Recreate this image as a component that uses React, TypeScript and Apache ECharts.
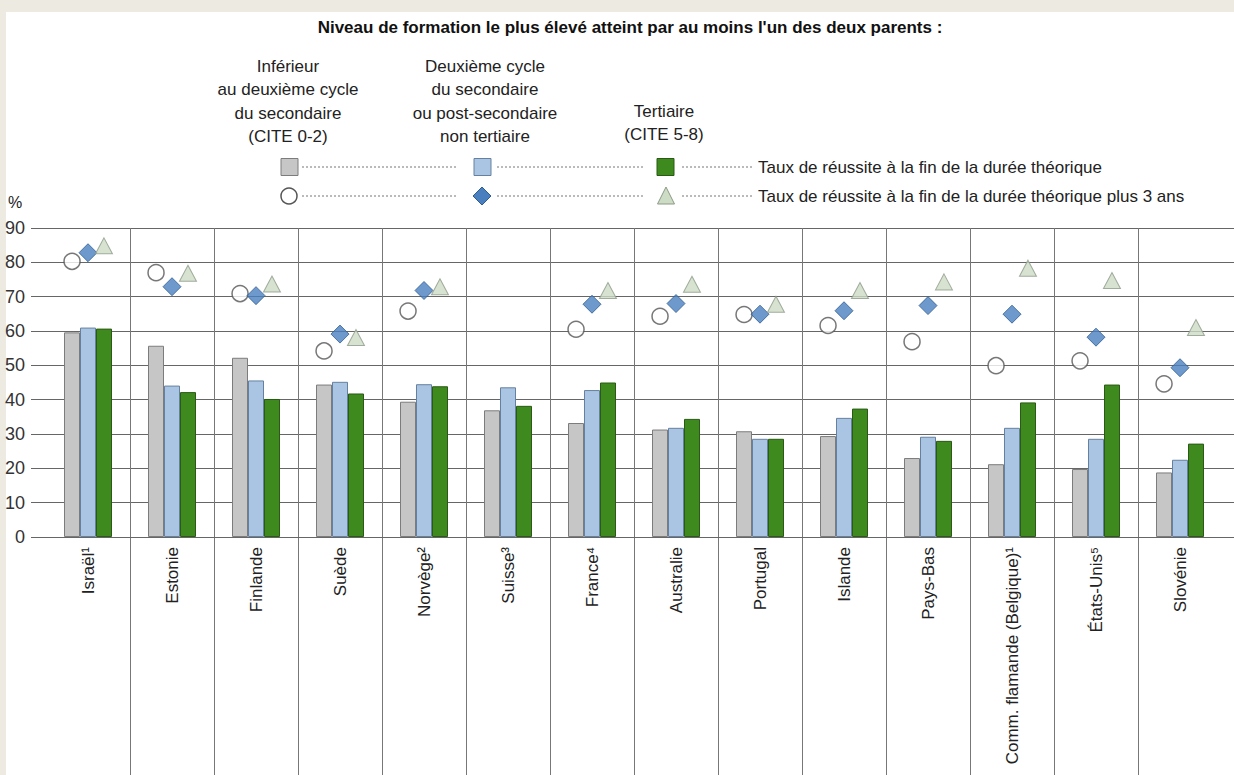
import React, { useEffect, useRef } from "react";
import * as echarts from "echarts";

const categories = [
  "Israël¹", "Estonie", "Finlande", "Suède", "Norvège²", "Suisse³", "France⁴",
  "Australie", "Portugal", "Islande", "Pays-Bas", "Comm. flamande (Belgique)¹",
  "États-Unis⁵", "Slovénie",
];
// Bars: completion rate at end of theoretical duration
const barLow = [59.6, 55.7, 52.2, 44.4, 39.4, 36.9, 33.2, 31.3, 30.8, 29.4, 23.0, 21.2, 19.8, 18.8];
const barMid = [61.0, 44.1, 45.6, 45.2, 44.5, 43.6, 42.8, 31.8, 28.6, 34.7, 29.2, 31.8, 28.6, 22.5];
const barHigh = [60.7, 42.2, 40.2, 41.8, 43.9, 38.2, 45.0, 34.4, 28.6, 37.4, 28.0, 39.2, 44.4, 27.2];
// Markers: completion rate at end of theoretical duration plus 3 years
const ptLow = [80.3, 77.0, 70.9, 54.2, 65.8, null, 60.5, 64.3, 64.8, 61.6, 56.9, 49.9, 51.3, 44.6];
const ptMid = [82.8, 72.9, 70.3, 59.1, 71.8, null, 67.8, 68.0, 64.9, 65.9, 67.4, 64.9, 58.2, 49.3];
const ptHigh = [84.8, 76.8, 73.7, 58.1, 72.9, null, 71.8, 73.6, 67.8, 71.8, 74.3, 78.3, 74.7, 61.0];
const yTicks = { min: 0, max: 90, interval: 10 };

const titleText = "Niveau de formation le plus élevé atteint par au moins l'un des deux parents :";
const header1 = "Inférieur\nau deuxième cycle\ndu secondaire\n(CITE 0-2)";
const header2 = "Deuxième cycle\ndu secondaire\nou post-secondaire\nnon tertiaire";
const header3 = "Tertiaire\n(CITE 5-8)";
const legendRow1 = "Taux de réussite à la fin de la durée théorique";
const legendRow2 = "Taux de réussite à la fin de la durée théorique plus 3 ans";

const FONT = "'Liberation Sans', Arial, sans-serif";
const C_GRAY = "#c6c6c6";
const C_BLUE = "#a9c5e3";
const C_GREEN = "#3f8a1f";
const C_DIAMOND = "#4a7fbf";
const C_TRI = "#cddcc4";
const GRID_C = "#666666";
const OFF = 0.19;

function points(vals: (number | null)[], off: number) {
  return vals.map((v, i) => (v == null ? null : [i + 0.5 + off, v]));
}

export default function App() {
  const ref = useRef<HTMLDivElement>(null);
  useEffect(() => {
    document.body.style.margin = "0";
    const chart = echarts.init(ref.current!, null, { renderer: "svg" });
    const dotted = (x1: number, x2: number, y: number) => ({
      type: "line",
      shape: { x1, y1: y, x2, y2: y },
      style: { stroke: "#777", lineWidth: 1, lineDash: [2, 2] },
    });
    const txt = (x: number, y: number, text: string, extra: any = {}) => ({
      type: "text",
      x,
      y,
      style: { text, fontFamily: FONT, fontSize: 17, fill: "#222", ...extra },
    });
    const sepLine = {
      show: true,
      interval: 0,
      showMinLine: false,
      showMaxLine: false,
      lineStyle: { color: "#777", width: 1 },
    };
    const option: any = {
      animation: false,
      backgroundColor: "#ffffff",
      textStyle: { fontFamily: FONT },
      grid: [
        { left: 46, right: 12, top: 228, bottom: 238 },
        { left: 46, right: 12, top: 537, bottom: 0 },
      ],
      xAxis: [
        {
          type: "category",
          gridIndex: 0,
          data: categories,
          boundaryGap: true,
          axisLine: { show: true, lineStyle: { color: GRID_C, width: 1 } },
          axisTick: { show: false },
          axisLabel: {
            interval: 0,
            rotate: 90,
            margin: 10,
            fontSize: 17,
            color: "#222",
            fontFamily: FONT,
          },
          splitLine: sepLine,
        },
        { type: "value", gridIndex: 0, min: 0, max: categories.length, show: false },
        {
          type: "category",
          gridIndex: 1,
          data: categories,
          boundaryGap: true,
          axisLine: { show: false },
          axisTick: { show: false },
          axisLabel: { show: false },
          splitLine: sepLine,
        },
      ],
      yAxis: [
        {
          type: "value",
          gridIndex: 0,
          ...yTicks,
          axisLine: { show: false },
          axisTick: { show: true, length: 15, lineStyle: { color: GRID_C, width: 1 } },
          axisLabel: { fontSize: 18, color: "#333", margin: 21, fontFamily: FONT },
          splitLine: { show: true, lineStyle: { color: GRID_C, width: 1 } },
        },
        {
          type: "value",
          gridIndex: 0,
          position: "right",
          ...yTicks,
          axisLine: { show: false },
          axisTick: { show: true, length: 12, lineStyle: { color: GRID_C, width: 1 } },
          axisLabel: { show: false },
          splitLine: { show: false },
        },
        { type: "value", gridIndex: 1, show: false, min: 0, max: 1 },
      ],
      series: [
        {
          type: "bar",
          xAxisIndex: 0,
          yAxisIndex: 0,
          data: barLow,
          barWidth: 16,
          barGap: "0%",
          itemStyle: { color: C_GRAY, borderColor: "#7c7c7c", borderWidth: 1 },
        },
        {
          type: "bar",
          xAxisIndex: 0,
          yAxisIndex: 0,
          data: barMid,
          barWidth: 16,
          barGap: "0%",
          itemStyle: { color: C_BLUE, borderColor: "#66819f", borderWidth: 1 },
        },
        {
          type: "bar",
          xAxisIndex: 0,
          yAxisIndex: 0,
          data: barHigh,
          barWidth: 16,
          barGap: "0%",
          itemStyle: { color: C_GREEN, borderColor: "#2a5a15", borderWidth: 1 },
        },
        {
          type: "scatter",
          xAxisIndex: 1,
          yAxisIndex: 0,
          data: points(ptLow, -OFF),
          symbol: "circle",
          symbolSize: 16,
          itemStyle: { color: "#ffffff", borderColor: "#555", borderWidth: 1.5 },
          z: 5,
        },
        {
          type: "scatter",
          xAxisIndex: 1,
          yAxisIndex: 0,
          data: points(ptMid, 0),
          symbol: "diamond",
          symbolSize: [18, 18],
          itemStyle: { color: C_DIAMOND, borderColor: "#2f5d92", borderWidth: 1 },
          z: 5,
        },
        {
          type: "scatter",
          xAxisIndex: 1,
          yAxisIndex: 0,
          data: points(ptHigh, OFF),
          symbol: "triangle",
          symbolSize: [17, 16],
          itemStyle: { color: C_TRI, borderColor: "#8c9a88", borderWidth: 1 },
          z: 5,
        },
      ],
      graphic: [
        { type: "rect", shape: { x: 0, y: 0, width: 1234, height: 12 }, style: { fill: "#ECEAE1" }, silent: true },
        { type: "rect", shape: { x: 0, y: 0, width: 6, height: 775 }, style: { fill: "#ECEAE1" }, silent: true },
        txt(630, 27, titleText, { fontWeight: "bold", fontSize: 17, align: "center", verticalAlign: "middle", fill: "#111" }),
        txt(288, 54.5, header1, { align: "center", verticalAlign: "top", lineHeight: 23.5 }),
        txt(485, 54.5, header2, { align: "center", verticalAlign: "top", lineHeight: 23.5 }),
        txt(664, 99.5, header3, { align: "center", verticalAlign: "top", lineHeight: 23.5 }),
        { type: "rect", shape: { x: 281, y: 158.5, width: 17, height: 17 }, style: { fill: C_GRAY, stroke: "#7c7c7c", lineWidth: 1 } },
        dotted(302, 457, 167),
        { type: "rect", shape: { x: 474, y: 158.5, width: 17, height: 17 }, style: { fill: C_BLUE, stroke: "#66819f", lineWidth: 1 } },
        dotted(497, 645, 167),
        { type: "rect", shape: { x: 657, y: 158.5, width: 17, height: 17 }, style: { fill: C_GREEN, stroke: "#2a5a15", lineWidth: 1 } },
        dotted(682, 753, 167),
        txt(758, 167, legendRow1, { verticalAlign: "middle" }),
        { type: "circle", shape: { cx: 289, cy: 196, r: 8 }, style: { fill: "#fff", stroke: "#555", lineWidth: 1.5 } },
        dotted(302, 457, 196),
        { type: "polygon", shape: { points: [[482, 187], [491, 196], [482, 205], [473, 196]] }, style: { fill: C_DIAMOND, stroke: "#2f5d92", lineWidth: 1 } },
        dotted(497, 645, 196),
        { type: "polygon", shape: { points: [[666, 187], [674.5, 204], [657.5, 204]] }, style: { fill: C_TRI, stroke: "#8c9a88", lineWidth: 1 } },
        dotted(682, 753, 196),
        txt(758, 196, legendRow2, { verticalAlign: "middle" }),
        txt(8, 202, "%", { verticalAlign: "middle", fontSize: 16 }),
      ],
    };
    chart.setOption(option);
    return () => chart.dispose();
  }, []);
  return <div ref={ref} style={{ width: 1234, height: 775 }} />;
}
